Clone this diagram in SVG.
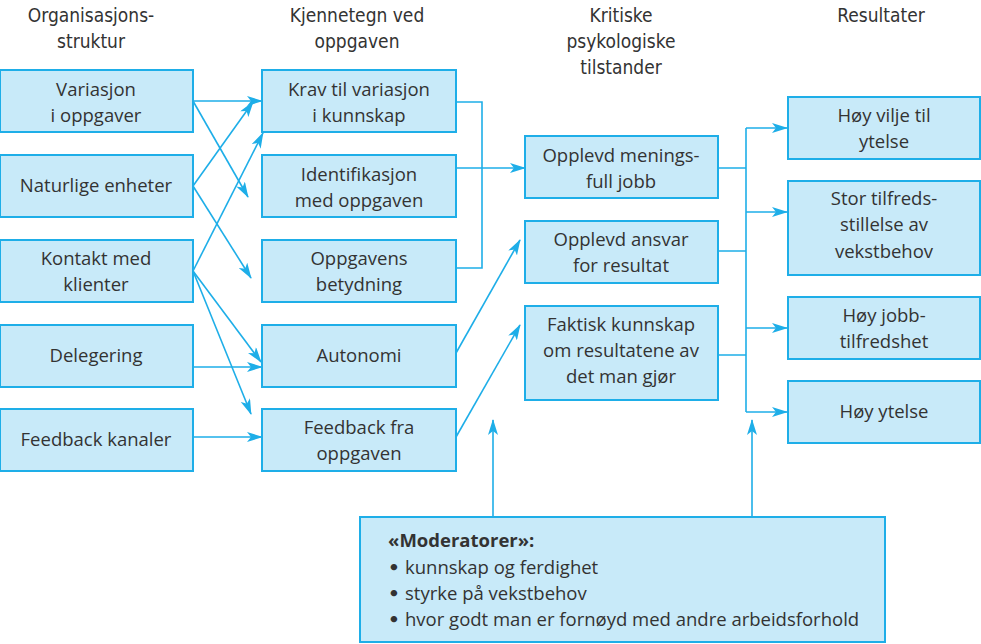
<svg xmlns="http://www.w3.org/2000/svg" width="981" height="644" viewBox="0 0 981 644">
<style>
.box{fill:#c8eaf9;stroke:#1eaee8;stroke-width:2}
.t{font-family:"Open Sans","Noto Sans",sans-serif;font-size:18.5px;fill:#333;text-anchor:middle}
.h{font-family:"DejaVu Sans","Liberation Sans",sans-serif;font-stretch:condensed;font-size:19px;fill:#333;text-anchor:middle}
.m{font-family:"Open Sans","Noto Sans",sans-serif;font-size:18.5px;fill:#333}
.b{font-family:"DejaVu Sans",sans-serif;font-size:18.5px;font-weight:bold;fill:#333}
.c{fill:none;stroke:#1eaee8;stroke-width:1.6}
.a{marker-end:url(#ah)}
</style>
<defs>
<marker id="ah" viewBox="0 0 16 10" refX="15" refY="5" markerWidth="16" markerHeight="10" markerUnits="userSpaceOnUse" orient="auto">
<path d="M0,0 L16,5 L0,10 L4,5 z" fill="#1eaee8"/>
</marker>
</defs>
<g id="headers">
<text class="h" x="91" y="22">Organisasjons-</text>
<text class="h" x="91" y="48">struktur</text>
<text class="h" x="357" y="22">Kjennetegn ved</text>
<text class="h" x="357" y="48">oppgaven</text>
<text class="h" x="621" y="22">Kritiske</text>
<text class="h" x="621" y="48">psykologiske</text>
<text class="h" x="621" y="74">tilstander</text>
<text class="h" x="881" y="22">Resultater</text>
</g>
<g id="connectors">
<path class="c a" d="M193,101 L262,101"/>
<path class="c a" d="M193,101 L248,197"/>
<path class="c a" d="M193,186 L253,102"/>
<path class="c a" d="M193,186 L251,278"/>
<path class="c a" d="M193,271 L263,133"/>
<path class="c a" d="M193,271 L261,362"/>
<path class="c a" d="M193,271 L251,414"/>
<path class="c a" d="M193,367 L262,367"/>
<path class="c a" d="M193,437 L262,437"/>
<path class="c" d="M456,102 L482,102 L482,268 L456,268"/>
<path class="c a" d="M456,168 L525,168"/>
<path class="c a" d="M456,353 L520,240"/>
<path class="c a" d="M456,437 L520,325"/>
<path class="c" d="M718,168 L746,168 M718,251 L746,251 M718,355 L746,355 M746,128 L746,412"/>
<path class="c a" d="M746,128 L787,128"/>
<path class="c a" d="M746,212 L787,212"/>
<path class="c a" d="M746,328 L787,328"/>
<path class="c a" d="M746,412 L787,412"/>
<path class="c a" d="M493,517 L493,420"/>
<path class="c a" d="M752,517 L752,420"/>
</g>
<g id="n1"><rect class="box" x="0" y="70" width="193" height="62"/><text class="t" x="96" y="96">Variasjon</text><text class="t" x="96" y="122">i oppgaver</text></g>
<g id="n2"><rect class="box" x="0" y="155" width="193" height="62"/><text class="t" x="96" y="192">Naturlige enheter</text></g>
<g id="n3"><rect class="box" x="0" y="240" width="193" height="62"/><text class="t" x="96" y="265">Kontakt med</text><text class="t" x="96" y="291">klienter</text></g>
<g id="n4"><rect class="box" x="0" y="325" width="193" height="62"/><text class="t" x="96" y="362">Delegering</text></g>
<g id="n5"><rect class="box" x="0" y="409" width="193" height="62"/><text class="t" x="96" y="446">Feedback kanaler</text></g>
<g id="k1"><rect class="box" x="262" y="70" width="194" height="62"/><text class="t" x="359" y="96">Krav til variasjon</text><text class="t" x="359" y="122">i kunnskap</text></g>
<g id="k2"><rect class="box" x="262" y="155" width="194" height="62"/><text class="t" x="359" y="181">Identifikasjon</text><text class="t" x="359" y="207">med oppgaven</text></g>
<g id="k3"><rect class="box" x="262" y="240" width="194" height="62"/><text class="t" x="359" y="265">Oppgavens</text><text class="t" x="359" y="291">betydning</text></g>
<g id="k4"><rect class="box" x="262" y="325" width="194" height="62"/><text class="t" x="359" y="362">Autonomi</text></g>
<g id="k5"><rect class="box" x="262" y="409" width="194" height="62"/><text class="t" x="359" y="434">Feedback fra</text><text class="t" x="359" y="460">oppgaven</text></g>
<g id="p1"><rect class="box" x="525" y="136" width="193" height="62"/><text class="t" x="621" y="162">Opplevd menings-</text><text class="t" x="621" y="188">full jobb</text></g>
<g id="p2"><rect class="box" x="525" y="221" width="193" height="62"/><text class="t" x="621" y="246">Opplevd ansvar</text><text class="t" x="621" y="272">for resultat</text></g>
<g id="p3"><rect class="box" x="525" y="306" width="193" height="94"/><text class="t" x="621" y="331">Faktisk kunnskap</text><text class="t" x="621" y="357">om resultatene av</text><text class="t" x="621" y="383">det man gjør</text></g>
<g id="r1"><rect class="box" x="788" y="97" width="192" height="62"/><text class="t" x="884" y="122">Høy vilje til</text><text class="t" x="884" y="148">ytelse</text></g>
<g id="r2"><rect class="box" x="788" y="181" width="192" height="94"/><text class="t" x="884" y="205">Stor tilfreds-</text><text class="t" x="884" y="231">stillelse av</text><text class="t" x="884" y="258">vekstbehov</text></g>
<g id="r3"><rect class="box" x="788" y="297" width="192" height="62"/><text class="t" x="884" y="322">Høy jobb-</text><text class="t" x="884" y="348">tilfredshet</text></g>
<g id="r4"><rect class="box" x="788" y="381" width="192" height="62"/><text class="t" x="884" y="418">Høy ytelse</text></g>
<g id="moderatorer"><rect class="box" x="360" y="517" width="525" height="125"/>
<text class="m" x="388" y="547" font-weight="bold">«Moderatorer»:</text>
<text class="b" x="388" y="574">•</text><text class="m" x="405" y="574">kunnskap og ferdighet</text>
<text class="b" x="388" y="600">•</text><text class="m" x="405" y="600">styrke på vekstbehov</text>
<text class="b" x="388" y="626">•</text><text class="m" x="405" y="626">hvor godt man er fornøyd med andre arbeidsforhold</text>
</g>
</svg>
